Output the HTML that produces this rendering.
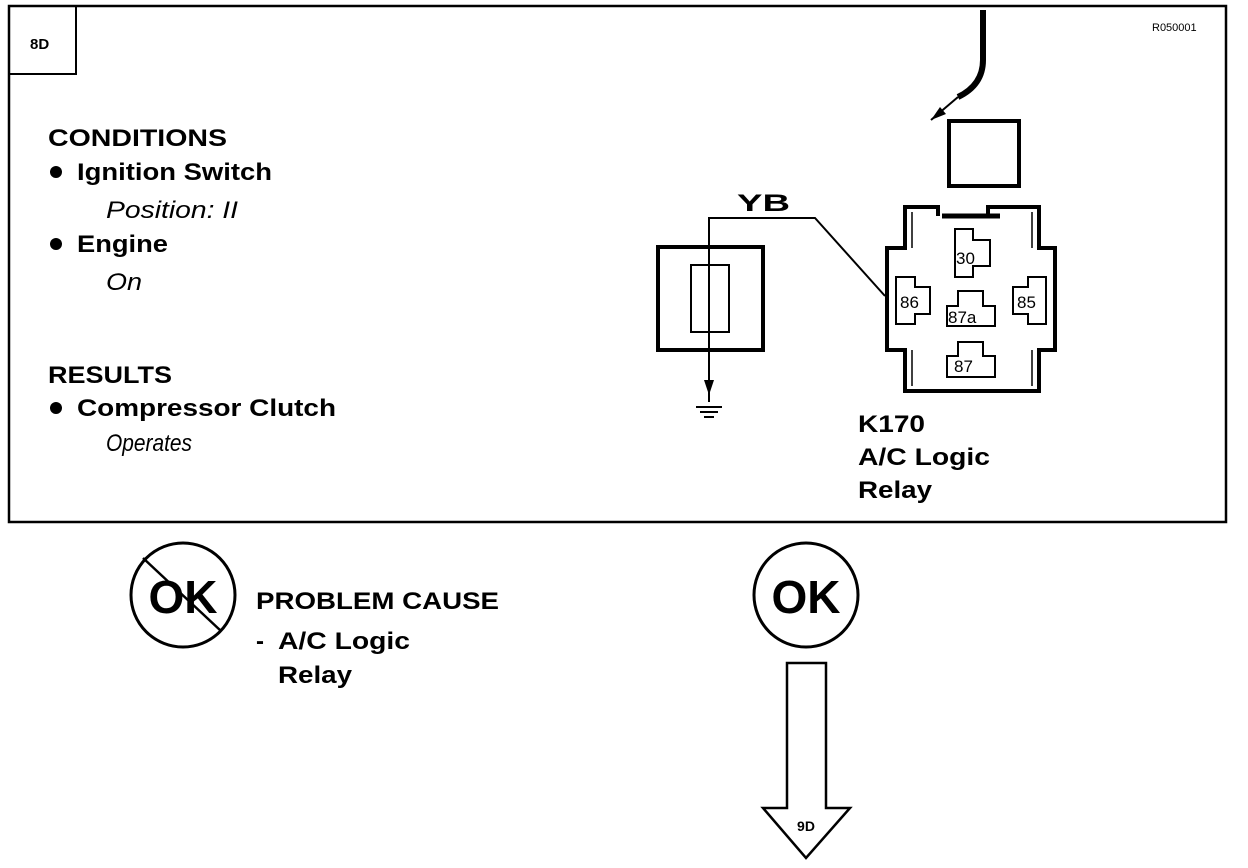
<!DOCTYPE html>
<html><head><style>
html,body{margin:0;padding:0;background:#fff;}
svg{display:block;font-family:"Liberation Sans",Arial,sans-serif;}
</style></head><body>
<svg width="1248" height="868" viewBox="0 0 1248 868" xmlns="http://www.w3.org/2000/svg">
<rect x="9" y="6" width="1217" height="516" fill="none" stroke="#000" stroke-width="2.5"/>
<rect x="9" y="6" width="67" height="68" fill="none" stroke="#000" stroke-width="2"/>
<text x="30" y="49" font-size="15" font-weight="bold">8D</text>
<text x="1152" y="31" font-size="11">R050001</text>

<g font-weight="bold" font-size="24" lengthAdjust="spacingAndGlyphs">
<text x="48" y="146" textLength="179" lengthAdjust="spacingAndGlyphs">CONDITIONS</text>
<text x="77" y="180" textLength="195" lengthAdjust="spacingAndGlyphs">Ignition Switch</text>
<text x="77" y="252" textLength="91" lengthAdjust="spacingAndGlyphs">Engine</text>
<text x="48" y="383" textLength="124" lengthAdjust="spacingAndGlyphs">RESULTS</text>
<text x="77" y="416" textLength="259" lengthAdjust="spacingAndGlyphs">Compressor Clutch</text>
</g>
<circle cx="56" cy="172" r="6"/>
<circle cx="56" cy="244" r="6"/>
<circle cx="56" cy="408" r="6"/>
<g font-style="italic" font-size="24">
<text x="106" y="218" textLength="132" lengthAdjust="spacingAndGlyphs">Position: II</text>
<text x="106" y="290" textLength="36" lengthAdjust="spacingAndGlyphs">On</text>
<text x="106" y="451" textLength="86" lengthAdjust="spacingAndGlyphs">Operates</text>
</g>

<!-- fuse & ground -->
<rect x="658" y="247" width="105" height="103" fill="none" stroke="#000" stroke-width="4"/>
<rect x="691" y="265" width="38" height="67" fill="none" stroke="#000" stroke-width="2"/>
<polyline points="709,402 709,218 815,218 885,296" fill="none" stroke="#000" stroke-width="2"/>
<polygon points="704,380 714,380 709,395" fill="#000"/>
<line x1="696" y1="407" x2="722" y2="407" stroke="#000" stroke-width="2"/>
<line x1="700" y1="412" x2="718" y2="412" stroke="#000" stroke-width="2"/>
<line x1="704" y1="417" x2="714" y2="417" stroke="#000" stroke-width="2"/>
<text x="737" y="211" font-size="24" font-weight="bold" textLength="53" lengthAdjust="spacingAndGlyphs">YB</text>

<!-- connector wire -->
<path d="M983,10 L983,60 Q983,85 958,97" fill="none" stroke="#000" stroke-width="6"/>
<line x1="931" y1="120" x2="958" y2="97" stroke="#000" stroke-width="2"/>
<polygon points="931,120 940,107 946,114" fill="#000"/>
<rect x="949" y="121" width="70" height="65" fill="none" stroke="#000" stroke-width="4"/>

<!-- relay -->
<path d="M938,216 L938,207 L905,207 L905,248 L887,248 L887,350 L905,350 L905,391 L1039,391 L1039,350 L1055,350 L1055,248 L1039,248 L1039,207 L988,207 L988,216" fill="none" stroke="#000" stroke-width="4"/>
<line x1="942" y1="216" x2="1000" y2="216" stroke="#000" stroke-width="5"/>
<line x1="912" y1="212" x2="912" y2="248" stroke="#000" stroke-width="1.5"/>
<line x1="1032" y1="212" x2="1032" y2="248" stroke="#000" stroke-width="1.5"/>
<line x1="912" y1="350" x2="912" y2="386" stroke="#000" stroke-width="1.5"/>
<line x1="1032" y1="350" x2="1032" y2="386" stroke="#000" stroke-width="1.5"/>
<g fill="none" stroke="#000" stroke-width="2">
<path d="M955,229 L973,229 L973,240 L990,240 L990,266 L973,266 L973,277 L955,277 Z"/>
<path d="M896,277 L915,277 L915,287 L930,287 L930,314 L915,314 L915,324 L896,324 Z"/>
<path d="M1046,277 L1028,277 L1028,287 L1013,287 L1013,314 L1028,314 L1028,324 L1046,324 Z"/>
<path d="M958,291 L983,291 L983,306 L995,306 L995,326 L947,326 L947,306 L958,306 Z"/>
<path d="M958,342 L983,342 L983,356 L995,356 L995,377 L947,377 L947,356 L958,356 Z"/>
</g>
<g font-size="17">
<text x="956" y="264">30</text>
<text x="900" y="308">86</text>
<text x="1017" y="308">85</text>
<text x="948" y="323">87a</text>
<text x="954" y="372">87</text>
</g>
<g font-weight="bold" font-size="24">
<text x="858" y="432" textLength="67" lengthAdjust="spacingAndGlyphs">K170</text>
<text x="858" y="465" textLength="132" lengthAdjust="spacingAndGlyphs">A/C Logic</text>
<text x="858" y="498" textLength="74" lengthAdjust="spacingAndGlyphs">Relay</text>
</g>

<!-- NOT OK -->
<circle cx="183" cy="595" r="52" fill="none" stroke="#000" stroke-width="3"/>
<text x="183" y="613" font-size="46" font-weight="bold" text-anchor="middle">OK</text>
<line x1="143" y1="558" x2="221" y2="631" stroke="#000" stroke-width="2.5"/>
<g font-weight="bold" font-size="24">
<text x="256" y="609" textLength="243" lengthAdjust="spacingAndGlyphs">PROBLEM CAUSE</text>
<text x="256" y="649">-</text>
<text x="278" y="649" textLength="132" lengthAdjust="spacingAndGlyphs">A/C Logic</text>
<text x="278" y="683" textLength="74" lengthAdjust="spacingAndGlyphs">Relay</text>
</g>

<!-- OK -->
<circle cx="806" cy="595" r="52" fill="none" stroke="#000" stroke-width="3"/>
<text x="806" y="613" font-size="46" font-weight="bold" text-anchor="middle">OK</text>
<polygon points="787,663 826,663 826,808 850,808 806,858 763,808 787,808" fill="#fff" stroke="#000" stroke-width="2.5"/>
<text x="806" y="831" font-size="14" font-weight="bold" text-anchor="middle">9D</text>
</svg>
</body></html>
